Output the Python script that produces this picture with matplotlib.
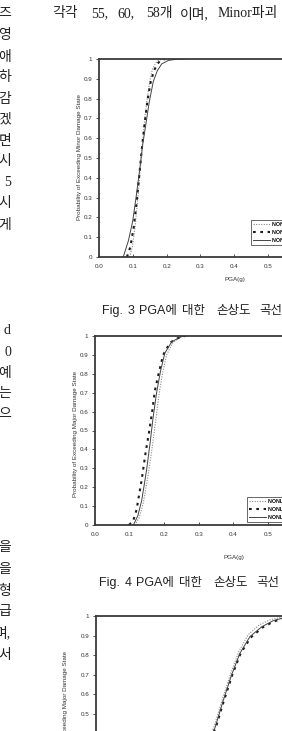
# -*- coding: utf-8 -*-
"""
PGA에 대한 손상도 곡선 (논문 페이지 일부 재현)
"""
import matplotlib
matplotlib.use("Agg")
import matplotlib.pyplot as plt

# ---------- 데이터 ----------
series_labels = ["NONLINEAR 1", "NONLINEAR 2", "NONLINEAR 3"]

# Fig. 3  Minor damage
minor_dot_x = [0.090, 0.098, 0.106, 0.114, 0.121, 0.128, 0.135, 0.142, 0.150, 0.158, 0.167, 0.177, 0.190]
minor_dot_y = [0.0, 0.05, 0.15, 0.29, 0.43, 0.57, 0.70, 0.80, 0.89, 0.95, 0.98, 0.995, 1.0]
minor_dash_x = [0.082, 0.092, 0.102, 0.111, 0.119, 0.127, 0.135, 0.143, 0.152, 0.162, 0.172, 0.182, 0.195]
minor_dash_y = [0.0, 0.05, 0.15, 0.28, 0.42, 0.56, 0.68, 0.79, 0.88, 0.94, 0.975, 0.993, 1.0]
minor_solid_x = [0.071, 0.086, 0.099, 0.109, 0.119, 0.129, 0.139, 0.148, 0.160, 0.172, 0.185, 0.205, 0.230, 0.255]
minor_solid_y = [0.0, 0.08, 0.18, 0.30, 0.43, 0.57, 0.68, 0.78, 0.885, 0.94, 0.975, 0.993, 0.999, 1.0]

# Fig. 4  Major damage
major_dot_x = [0.115, 0.128, 0.140, 0.155, 0.166, 0.176, 0.185, 0.196, 0.207, 0.225, 0.248, 0.262]
major_dot_y = [0.0, 0.04, 0.12, 0.28, 0.42, 0.56, 0.69, 0.81, 0.90, 0.965, 0.995, 1.0]
major_dash_x = [0.098, 0.110, 0.120, 0.135, 0.146, 0.157, 0.166, 0.173, 0.185, 0.197, 0.217, 0.241, 0.260]
major_dash_y = [0.0, 0.02, 0.08, 0.24, 0.38, 0.50, 0.61, 0.71, 0.81, 0.90, 0.965, 0.99, 1.0]
major_solid_x = [0.111, 0.124, 0.135, 0.149, 0.159, 0.168, 0.178, 0.190, 0.202, 0.222, 0.250, 0.265]
major_solid_y = [0.0, 0.05, 0.13, 0.29, 0.43, 0.57, 0.70, 0.82, 0.91, 0.97, 0.997, 1.0]

# 세 번째 그림 (상단만 보임)
third_dot_x = [0.15, 0.20, 0.25, 0.30, 0.342, 0.366, 0.390, 0.413, 0.440, 0.472, 0.505, 0.535, 0.60]
third_dot_y = [0.0, 0.02, 0.10, 0.27, 0.44, 0.58, 0.71, 0.82, 0.905, 0.955, 0.982, 0.993, 1.0]
third_dash_x = [0.16, 0.21, 0.26, 0.305, 0.346, 0.370, 0.394, 0.418, 0.447, 0.480, 0.513, 0.540, 0.60]
third_dash_y = [0.0, 0.03, 0.12, 0.28, 0.43, 0.57, 0.70, 0.81, 0.89, 0.94, 0.972, 0.986, 1.0]
third_solid_x = [0.15, 0.20, 0.25, 0.30, 0.344, 0.368, 0.392, 0.416, 0.445, 0.479, 0.512, 0.537, 0.56, 0.60]
third_solid_y = [0.0, 0.02, 0.10, 0.26, 0.43, 0.57, 0.70, 0.81, 0.895, 0.945, 0.976, 0.988, 0.995, 1.0]

x_ticks = [0.0, 0.1, 0.2, 0.3, 0.4, 0.5]
x_ticklabels = ["0.0", "0.1", "0.2", "0.3", "0.4", "0.5"]
y_ticks = [0, 0.1, 0.2, 0.3, 0.4, 0.5, 0.6, 0.7, 0.8, 0.9, 1.0]
y_ticklabels = ["0", "0.1", "0.2", "0.3", "0.4", "0.5", "0.6", "0.7", "0.8", "0.9", "1"]

# ---------- 본문 텍스트 (잘린 페이지) ----------
top_words = ["각각", "55,", "60,", "58개", "이며,", "Minor파괴"]
top_word_x = [52, 91, 117, 146, 180, 218]
left_chars = ["즈", "영", "애", "하", "감", "겠", "면", "시", "5", "시", "게",
              "d", "0", "예", "는", "으",
              "을", "을", "형", "급", "며,", "서"]
left_char_y = [14, 36, 57, 78, 99, 120, 141, 162, 183, 204, 225,
               331, 352, 373, 394, 415,
               548, 570, 591, 612, 633, 655]
cap3_words = ["Fig.", "3", "PGA에", "대한", "손상도", "곡선"]
cap3_x = [102, 128, 139, 182, 216, 259]
cap4_words = ["Fig.", "4", "PGA에", "대한", "손상도", "곡선"]
cap4_x = [99, 125, 136, 179, 213, 256]

W, H = 282, 731
SERIF = ["Liberation Serif", "Noto Sans CJK KR"]
SANS = ["Liberation Sans", "Noto Sans CJK KR"]


def fig_rect(left, top, width, height):
    """픽셀 좌표(위쪽 기준)를 figure 비율로 변환"""
    return [left / W, 1 - (top + height) / H, width / W, height / H]


def draw_panel(fig, rect, curves, ylabel, ylabel_xy, xlabel_xy, legend_anchor, yticks_shown):
    ax = fig.add_axes(rect)
    styles = [
        dict(color="#8a8a8a", lw=0.8, linestyle=(0, (1, 1.3))),
        dict(color="#1a1a1a", lw=1.5, linestyle=(0, (1.3, 2.2))),
        dict(color="#444444", lw=0.7, linestyle="-"),
    ]
    for (xs, ys), st, lab in zip(curves, styles, series_labels):
        ax.plot(xs, ys, label=lab, **st)

    ax.set_xlim(0, 0.8)
    ax.set_ylim(0, 1)
    ax.set_xticks(x_ticks)
    ax.set_xticklabels(x_ticklabels, fontsize=4.5, family=SANS, color="#333333")
    shown = [(t, l) for t, l in zip(y_ticks, y_ticklabels) if t >= yticks_shown]
    ax.set_yticks([t for t, _ in shown])
    ax.set_yticklabels([l for _, l in shown], fontsize=4.5, family=SANS, color="#333333")
    ax.tick_params(axis="x", direction="in", length=2, width=0.6, pad=5, colors="#333333")
    ax.tick_params(axis="y", direction="out", length=2, width=0.6, pad=3, colors="#333333")
    for sp in ax.spines.values():
        sp.set_linewidth(1.3)
        sp.set_color("#3a3a3a")

    fig.text(ylabel_xy[0] / W, 1 - ylabel_xy[1] / H, ylabel, rotation=90,
             ha="center", va="center", fontsize=4.5, family=SANS, color="#333333")
    if xlabel_xy is not None:
        fig.text(xlabel_xy[0] / W, 1 - xlabel_xy[1] / H, "PGA(g)",
                 ha="center", va="center", fontsize=4.5, family=SANS, color="#333333")

    if legend_anchor is not None:
        leg = ax.legend(loc="upper left", bbox_to_anchor=legend_anchor, borderaxespad=0,
                        prop=dict(family="Liberation Sans", size=3.8, weight="bold"),
                        frameon=True, fancybox=False, edgecolor="#222222",
                        handlelength=3.2, handletextpad=0.3, labelspacing=0.55,
                        borderpad=0.4)
        leg.get_frame().set_linewidth(0.6)
    return ax


def main():
    fig = plt.figure(figsize=(W / 100, H / 100), dpi=100)
    fig.patch.set_facecolor("white")

    # ---------- 본문 ----------
    for word, x in zip(top_words, top_word_x):
        fig.text(x / W, 1 - 14 / H, word, ha="left", va="center",
                 fontsize=10, family=SERIF, color="#222222")
    for ch, y in zip(left_chars, left_char_y):
        fig.text(11 / W, 1 - y / H, ch, ha="right", va="center",
                 fontsize=10, family=SERIF, color="#222222")

    # ---------- Fig. 3 ----------
    w1 = 0.8 * 337
    draw_panel(fig, fig_rect(99.3, 59, w1, 198),
               [(minor_dot_x, minor_dot_y), (minor_dash_x, minor_dash_y), (minor_solid_x, minor_solid_y)],
               "Probability of Exceeding Minor Damage State", (80, 157), (235, 279),
               ((251 - 99.3) / w1, (257 - 220) / 198), 0)
    for word, x in zip(cap3_words, cap3_x):
        fig.text(x / W, 1 - 311 / H, word, ha="left", va="center",
                 fontsize=9, family=SANS, color="#222222")

    # ---------- Fig. 4 ----------
    w2 = 0.8 * 346
    draw_panel(fig, fig_rect(95, 336, w2, 189),
               [(major_dot_x, major_dot_y), (major_dash_x, major_dash_y), (major_solid_x, major_solid_y)],
               "Probability of Exceeding Major Damage State", (75, 434), (234, 557),
               ((247 - 95) / w2, (525 - 497) / 189), 0)
    for word, x in zip(cap4_words, cap4_x):
        fig.text(x / W, 1 - 583 / H, word, ha="left", va="center",
                 fontsize=9, family=SANS, color="#222222")

    # ---------- 세 번째 그림 (아래쪽 잘림) ----------
    draw_panel(fig, fig_rect(96, 616, w2, 196),
               [(third_dot_x, third_dot_y), (third_dash_x, third_dash_y), (third_solid_x, third_solid_y)],
               "Probability of Exceeding Major Damage State", (65, 714), None,
               None, 0.5)

    fig.savefig("out.png", dpi=100, facecolor="white")


if __name__ == "__main__":
    main()
